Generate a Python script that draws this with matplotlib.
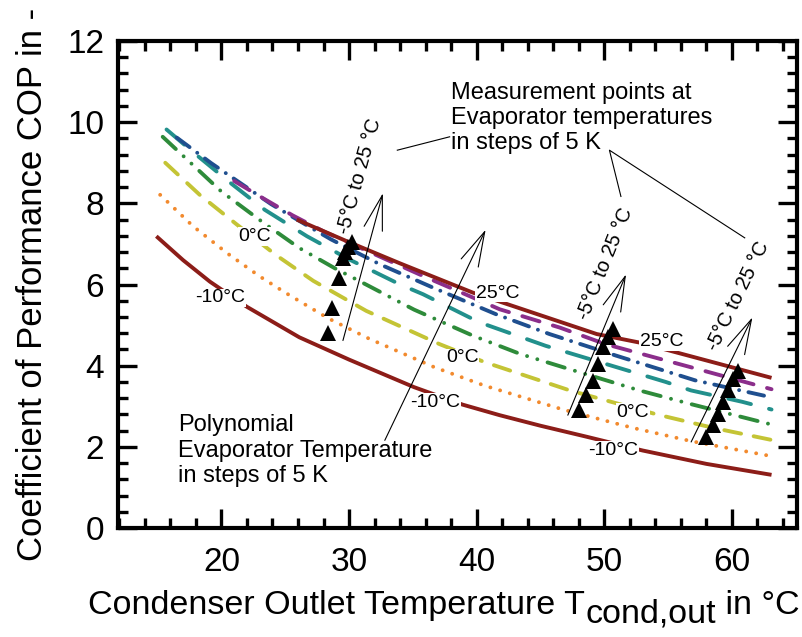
import matplotlib
matplotlib.use('Agg')
import matplotlib.pyplot as plt
from matplotlib.ticker import MultipleLocator

plt.rcParams['font.family'] = ['Liberation Sans', 'DejaVu Sans']

# polynomial fit, one curve per evaporator temperature (COP over condenser outlet temp)
t_m10 = [14.9, 17.0, 19.1, 22.0, 26.1, 30.0, 35.1, 38.9, 41.8, 45.0, 48.6, 53.0, 58.0, 63.1]
cop_m10 = [7.19, 6.60, 6.07, 5.45, 4.70, 4.15, 3.47, 3.04, 2.78, 2.52, 2.25, 1.91, 1.58, 1.31]

t_m5 = [15.2, 17.8, 20.5, 23.0, 25.0, 28.35, 31.6, 36.7, 40.6, 46.75, 52.2, 56.8, 63.1]
cop_m5 = [8.21, 7.43, 6.76, 6.20, 5.80, 5.17, 4.66, 3.96, 3.51, 2.92, 2.47, 2.14, 1.77]

t_0 = [15.6, 18.3, 21.2, 24.3, 27.2, 31.35, 37.1, 40.6, 47.3, 54.1, 58.5, 63.1]
cop_0 = [9.00, 8.21, 7.48, 6.72, 6.09, 5.35, 4.53, 4.09, 3.39, 2.80, 2.47, 2.17]

t_5 = [15.4, 20.0, 23.3, 26.1, 29.0, 30.6, 35.1, 39.7, 43.4, 47.0, 52.75, 56.7, 63.1]
cop_5 = [9.64, 8.29, 7.52, 6.90, 6.38, 6.12, 5.38, 4.74, 4.29, 3.94, 3.39, 3.06, 2.55]

t_10 = [15.7, 17.9, 20.8, 23.4, 26.7, 30.0, 34.0, 35.8, 40.2, 45.4, 47.5, 54.8, 56.8, 60.8, 63.1]
cop_10 = [9.82, 9.23, 8.48, 7.84, 7.19, 6.62, 6.00, 5.76, 5.07, 4.49, 4.29, 3.60, 3.39, 3.11, 2.92]

t_15 = [16.5, 19.2, 23.9, 26.9, 28.6, 32.4, 36.6, 41.5, 45.7, 50.9, 57.1, 63.1]
cop_15 = [9.62, 8.99, 7.98, 7.42, 7.11, 6.50, 5.92, 5.27, 4.78, 4.25, 3.64, 3.22]

t_20 = [21.0, 23.4, 25.6, 28.0, 35.8, 39.4, 41.8, 46.5, 50.1, 56.8, 63.1]
cop_20 = [8.55, 8.10, 7.70, 7.31, 6.21, 5.72, 5.39, 4.94, 4.53, 3.96, 3.42]

t_25 = [25.9, 29.8, 34.0, 39.7, 49.4, 52.75, 63.1]
cop_25 = [7.60, 7.07, 6.52, 5.80, 4.78, 4.57, 3.70]

# measured points, evaporator -5 .. 25 °C, three condenser set points
meas_t_1 = [28.35, 28.7, 29.2, 29.5, 29.7, 29.95, 30.2]
meas_cop_1 = [4.80, 5.43, 6.17, 6.65, 6.80, 6.92, 7.05]
meas_t_2 = [48.05, 48.6, 49.1, 49.5, 49.9, 50.3, 50.7]
meas_cop_2 = [2.90, 3.27, 3.63, 4.04, 4.47, 4.70, 4.90]
meas_t_3 = [58.0, 58.5, 58.9, 59.3, 59.7, 60.1, 60.5]
meas_cop_3 = [2.25, 2.53, 2.82, 3.10, 3.41, 3.66, 3.87]

curve_labels = ['-10°C', '0°C', '25°C', '0°C', '-10°C', '25°C', '0°C', '-10°C']
curve_label_t = [19.93, 22.6, 41.63, 38.86, 36.78, 54.52, 52.23, 50.67]
curve_label_cop = [5.56, 7.07, 5.68, 4.08, 2.98, 4.49, 2.74, 1.80]

DARK_RED = '#8c1d18'
LW = 2.8

curves = [
    (t_m10, cop_m10, dict(color=DARK_RED, linestyle='-')),
    (t_m5, cop_m5, dict(color='#f28a2e', linestyle=(0, (0.01, 2.6)))),
    (t_0, cop_0, dict(color='#c4c435', linestyle=(0, (4.4, 3.3)))),
    (t_5, cop_5, dict(color='#2e8b3a', linestyle=(0, (4.6, 2.75, 0.01, 2.75, 0.01, 2.75)))),
    (t_10, cop_10, dict(color='#22908c', linestyle=(0, (6.0, 4.8)))),
    (t_15, cop_15, dict(color='#1f4f8f', linestyle=(0, (4.1, 2.45, 0.01, 2.45)))),
    (t_20, cop_20, dict(color='#8b2e8b', linestyle=(0, (4.6, 3.6)))),
    (t_25, cop_25, dict(color=DARK_RED, linestyle='-')),
]

fig = plt.figure(figsize=(8.03, 6.37), dpi=100)
ax = fig.add_axes([0.147, 0.1711, 0.8456, 0.7645])

for t, cop, style in curves:
    kw = dict(linewidth=LW, dash_capstyle='round', solid_capstyle='butt')
    kw.update(style)
    ax.plot(t, cop, zorder=2, **kw)

for t, cop in [(meas_t_1, meas_cop_1), (meas_t_2, meas_cop_2), (meas_t_3, meas_cop_3)]:
    ax.plot(t, cop, linestyle='none', marker='^', markersize=11,
            color='black', markeredgewidth=0, zorder=5)

for s, t, c in zip(curve_labels, curve_label_t, curve_label_cop):
    ax.text(t, c, s, fontsize=14, ha='center', va='baseline', zorder=4,
            bbox=dict(facecolor='white', edgecolor='none', pad=0.5))

# arrows: tail -> tip
arrow_kw = dict(arrowstyle='->,head_length=1.25,head_width=0.34', lw=0.8,
                color='black', shrinkA=0, shrinkB=0, mutation_scale=20)
for tail, tip in [((29.52, 4.62), (32.65, 8.25)),
                  ((32.8, 2.16), (40.7, 7.35)),
                  ((47.14, 2.78), (51.7, 6.25)),
                  ((56.8, 2.12), (61.6, 5.19))]:
    ax.annotate('', xy=tip, xytext=tail, arrowprops=arrow_kw, zorder=6)

# leader lines from the measurement note
ax.plot([33.78, 37.88], [9.31, 9.64], color='black', lw=0.8)
ax.plot([51.3, 50.4, 61.0], [8.17, 9.31, 7.15], color='black', lw=0.8)

for t, c, rot in [(30.83, 8.68, 74.5), (50.09, 6.50, 68), (60.52, 5.71, 64)]:
    ax.text(t, c, '-5°C to 25 °C', fontsize=14.5, rotation=rot,
            rotation_mode='anchor', ha='center', va='center')

ax.text(37.99, 11.0, 'Measurement points at\nEvaporator temperatures\nin steps of 5 K',
        fontsize=17, ha='left', va='top', linespacing=1.2)
ax.text(16.6, 2.8, 'Polynomial\nEvaporator Temperature\nin steps of 5 K',
        fontsize=17, ha='left', va='top', linespacing=1.2)

ax.set_xlim(11.9, 65.1)
ax.set_ylim(0, 12)
ax.xaxis.set_minor_locator(MultipleLocator(2))
ax.yaxis.set_major_locator(MultipleLocator(2))
ax.yaxis.set_minor_locator(MultipleLocator(0.4))
ax.set_xticks([20, 30, 40, 50, 60])
ax.tick_params(which='both', direction='in', top=True, right=True, width=2.4)
ax.tick_params(which='major', length=14, labelsize=24)
ax.tick_params(axis='x', which='major', pad=14)
ax.tick_params(axis='y', which='major', pad=10)
ax.tick_params(which='minor', length=7.5)
for sp in ax.spines.values():
    sp.set_linewidth(3)

fig.text(0.041, 0.553, 'Coefficient of Performance COP in -', fontsize=25,
         rotation=90, ha='center', va='center')

# x label with a full-size, lowered subscript
fig.canvas.draw()
renderer = fig.canvas.get_renderer()
x0, y0 = 0.11, 0.036
parts = [('Condenser Outlet Temperature T', 0.0),
         ('cond,out', -8.0 / 637),
         (' in °C', 0.0)]
for s, dy in parts:
    txt = fig.text(x0, y0 + dy, s, fontsize=24.5, ha='left', va='baseline')
    x0 += txt.get_window_extent(renderer).width / fig.bbox.width

fig.savefig('out.png', dpi=100)
